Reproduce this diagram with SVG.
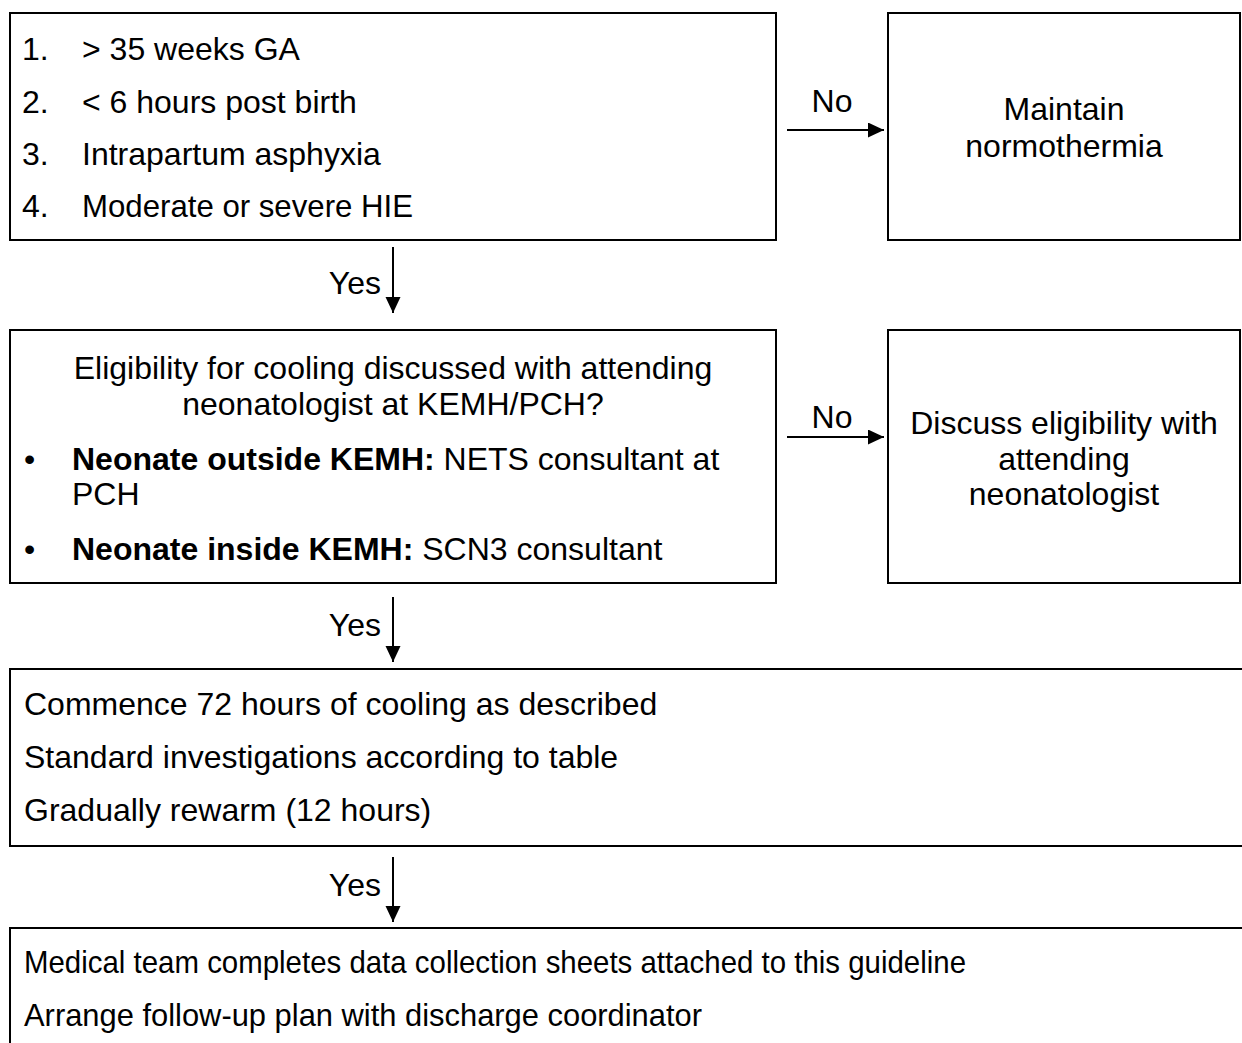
<svg xmlns="http://www.w3.org/2000/svg" width="1242" height="1043" viewBox="0 0 1242 1043">
<style>
  .box { fill: #ffffff; stroke: #000000; stroke-width: 2; }
  .t { font-family: "Liberation Sans", Arial, sans-serif; font-size: 32px; fill: #000000; }
  .c { text-anchor: middle; }
  .r { text-anchor: end; }
  .b { font-weight: bold; }
  .edge { stroke: #000000; stroke-width: 2; fill: none; marker-end: url(#arrow); }
</style>
<defs>
  <marker id="arrow" markerUnits="userSpaceOnUse" markerWidth="16" markerHeight="16" refX="16" refY="7.5" orient="auto">
    <path d="M0,0 L16,7.5 L0,15 Z" fill="#000000"/>
  </marker>
</defs>
<rect x="0" y="0" width="1242" height="1043" fill="#ffffff"/>

<g id="criteria">
  <rect class="box" x="10" y="13" width="766" height="227"/>
  <text class="t" x="22" y="60">1.</text><text class="t" x="82" y="60">&gt; 35 weeks GA</text>
  <text class="t" x="22" y="113">2.</text><text class="t" x="82" y="113">&lt; 6 hours post birth</text>
  <text class="t" x="22" y="165">3.</text><text class="t" x="82" y="165">Intrapartum asphyxia</text>
  <text class="t" x="22" y="217">4.</text><text class="t" x="82" y="217" textLength="331" lengthAdjust="spacingAndGlyphs">Moderate or severe HIE</text>
</g>

<g id="normothermia">
  <rect class="box" x="888" y="13" width="352" height="227"/>
  <text class="t c" x="1064" y="120">Maintain</text>
  <text class="t c" x="1064" y="157">normothermia</text>
</g>

<g id="eligibility">
  <rect class="box" x="10" y="330" width="766" height="253"/>
  <text class="t c" x="393" y="379">Eligibility for cooling discussed with attending</text>
  <text class="t c" x="393" y="415">neonatologist at KEMH/PCH?</text>
  <text class="t" x="24" y="470">•</text>
  <text class="t" x="72" y="470"><tspan class="b">Neonate outside KEMH:</tspan> NETS consultant at</text>
  <text class="t" x="72" y="505">PCH</text>
  <text class="t" x="24" y="560">•</text>
  <text class="t" x="72" y="560"><tspan class="b">Neonate inside KEMH:</tspan> SCN3 consultant</text>
</g>

<g id="discuss">
  <rect class="box" x="888" y="330" width="352" height="253"/>
  <text class="t c" x="1064" y="434">Discuss eligibility with</text>
  <text class="t c" x="1064" y="470">attending</text>
  <text class="t c" x="1064" y="505">neonatologist</text>
</g>

<g id="cooling">
  <rect class="box" x="10" y="669" width="1250" height="177"/>
  <text class="t" x="24" y="715">Commence 72 hours of cooling as described</text>
  <text class="t" x="24" y="768">Standard investigations according to table</text>
  <text class="t" x="24" y="821">Gradually rewarm (12 hours)</text>
</g>

<g id="followup">
  <rect class="box" x="10" y="928" width="1250" height="130"/>
  <text class="t" x="24" y="973" textLength="942" lengthAdjust="spacingAndGlyphs">Medical team completes data collection sheets attached to this guideline</text>
  <text class="t" x="24" y="1026" textLength="678" lengthAdjust="spacingAndGlyphs">Arrange follow-up plan with discharge coordinator</text>
</g>

<g id="connectors">
  <line class="edge" x1="787" y1="130" x2="884" y2="130"/>
  <text class="t c" x="832" y="112">No</text>
  <line class="edge" x1="787" y1="437" x2="884" y2="437"/>
  <text class="t c" x="832" y="428">No</text>
  <line class="edge" x1="393" y1="247" x2="393" y2="313"/>
  <text class="t r" x="381" y="294">Yes</text>
  <line class="edge" x1="393" y1="597" x2="393" y2="662"/>
  <text class="t r" x="381" y="636">Yes</text>
  <line class="edge" x1="393" y1="857" x2="393" y2="922"/>
  <text class="t r" x="381" y="896">Yes</text>
</g>
</svg>
